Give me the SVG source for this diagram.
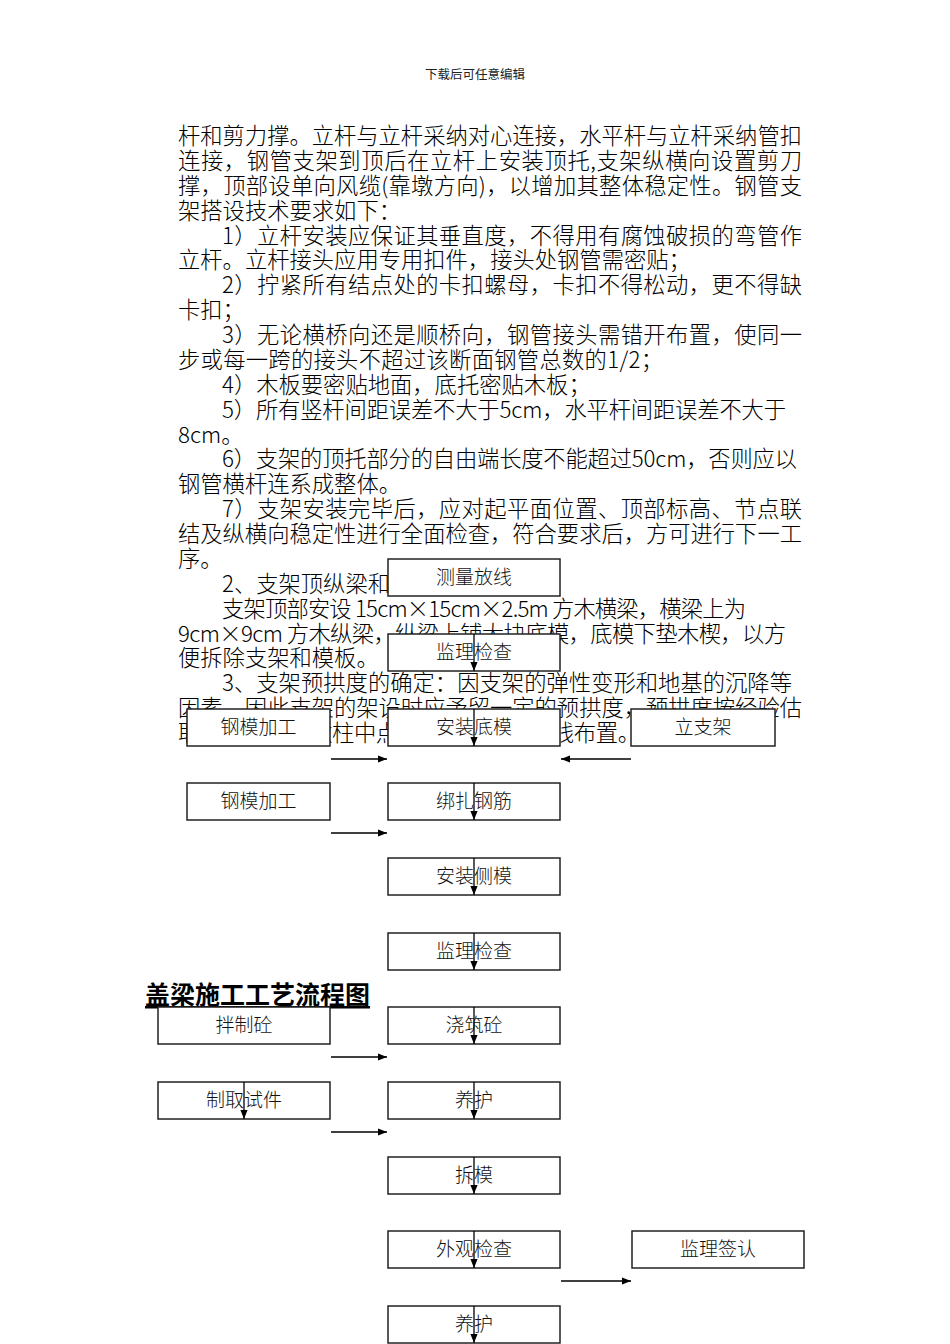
<svg xmlns="http://www.w3.org/2000/svg" width="950" height="1344" viewBox="0 0 950 1344">
<style>
.bg{fill:#fff}
.hdr{font-family:"Noto Sans CJK SC","Noto Sans",sans-serif;font-size:12.5px;fill:#222}
.body{font-family:"Noto Sans CJK SC","Noto Sans",sans-serif;font-size:22.3px;font-weight:300;fill:#000}
.title{font-family:"Noto Sans CJK SC","Noto Sans",sans-serif;font-size:25px;font-weight:700;fill:#000;text-decoration:underline}
.box{fill:#fff;stroke:#222;stroke-width:1.5}
.lbl{font-family:"Noto Sans CJK SC","Noto Sans",sans-serif;font-size:19px;font-weight:300;fill:#111;text-anchor:middle}
.arr{stroke:#000;stroke-width:1.3;fill:none;marker-end:url(#ah)}
</style>
<defs>
<marker id="ah" viewBox="0 0 10 10" refX="10" refY="5" markerWidth="10" markerHeight="9" markerUnits="userSpaceOnUse" orient="auto">
<path d="M0,1 L10,5 L0,9 z" fill="#000"/>
</marker>
</defs>
<rect class="bg" x="0" y="0" width="950" height="1344"/>
<text class="hdr" x="475" y="79" text-anchor="middle">下载后可任意编辑</text>
<g id="bodytext">
<text class="body" x="178" y="144" textLength="624" lengthAdjust="spacing">杆和剪力撑。立杆与立杆采纳对心连接，水平杆与立杆采纳管扣</text>
<text class="body" x="178" y="168.9" textLength="624" lengthAdjust="spacing">连接，钢管支架到顶后在立杆上安装顶托,支架纵横向设置剪刀</text>
<text class="body" x="178" y="193.8" textLength="624" lengthAdjust="spacing">撑，顶部设单向风缆(靠墩方向)，以增加其整体稳定性。钢管支</text>
<text class="body" x="178" y="218.6">架搭设技术要求如下：</text>
<text class="body" x="222" y="243.5" textLength="580" lengthAdjust="spacing">1）立杆安装应保证其垂直度，不得用有腐蚀破损的弯管作</text>
<text class="body" x="178" y="268.4">立杆。立杆接头应用专用扣件，接头处钢管需密贴；</text>
<text class="body" x="222" y="293.3" textLength="580" lengthAdjust="spacing">2）拧紧所有结点处的卡扣螺母，卡扣不得松动，更不得缺</text>
<text class="body" x="178" y="318.1">卡扣；</text>
<text class="body" x="222" y="343" textLength="580" lengthAdjust="spacing">3）无论横桥向还是顺桥向，钢管接头需错开布置，使同一</text>
<text class="body" x="178" y="367.9" textLength="485" lengthAdjust="spacing">步或每一跨的接头不超过该断面钢管总数的1/2；</text>
<text class="body" x="222" y="392.8">4）木板要密贴地面，底托密贴木板；</text>
<text class="body" x="222" y="417.6" textLength="564" lengthAdjust="spacing">5）所有竖杆间距误差不大于5cm，水平杆间距误差不大于</text>
<text class="body" x="178" y="442.5">8cm。</text>
<text class="body" x="222" y="467.4" textLength="575" lengthAdjust="spacing">6）支架的顶托部分的自由端长度不能超过50cm，否则应以</text>
<text class="body" x="178" y="492.3">钢管横杆连系成整体。</text>
<text class="body" x="222" y="517.1" textLength="580" lengthAdjust="spacing">7）支架安装完毕后，应对起平面位置、顶部标高、节点联</text>
<text class="body" x="178" y="542" textLength="624" lengthAdjust="spacing">结及纵横向稳定性进行全面检查，符合要求后，方可进行下一工</text>
<text class="body" x="178" y="566.9">序。</text>
<text class="body" x="222" y="591.8">2、支架顶纵梁和底模</text>
<text class="body" x="222" y="616.6" textLength="524" lengthAdjust="spacing">支架顶部安设 15cm×15cm×2.5m 方木横梁，横梁上为</text>
<text class="body" x="178" y="641.5" textLength="608" lengthAdjust="spacing">9cm×9cm 方木纵梁，纵梁上铺大块底模，底模下垫木楔，以方</text>
<text class="body" x="178" y="666.4">便拆除支架和模板。</text>
<text class="body" x="222" y="691.3" textLength="570" lengthAdjust="spacing">3、支架预拱度的确定：因支架的弹性变形和地基的沉降等</text>
<text class="body" x="178" y="716.1" textLength="624" lengthAdjust="spacing">因素，因此支架的架设时应予留一定的预拱度，预拱度按经验估</text>
<text class="body" x="178" y="741" textLength="462" lengthAdjust="spacing">取值，在盖梁墩柱中点为最大，按抛物线布置。</text>
</g>
<text class="title" x="145" y="1004">盖梁施工工艺流程图</text>
<g id="n1"><rect class="box" x="388" y="559" width="172" height="37"/><text class="lbl" x="474" y="584">测量放线</text></g>
<g id="n2"><rect class="box" x="388" y="634" width="172" height="37"/><text class="lbl" x="474" y="659">监理检查</text></g>
<g id="n3"><rect class="box" x="187" y="709" width="143" height="37"/><text class="lbl" x="258.5" y="734">钢模加工</text></g>
<g id="n4"><rect class="box" x="388" y="709" width="172" height="37"/><text class="lbl" x="474" y="734">安装底模</text></g>
<g id="n5"><rect class="box" x="631" y="709" width="144" height="37"/><text class="lbl" x="703" y="734">立支架</text></g>
<g id="n6"><rect class="box" x="187" y="783" width="143" height="37"/><text class="lbl" x="258.5" y="808">钢模加工</text></g>
<g id="n7"><rect class="box" x="388" y="783" width="172" height="37"/><text class="lbl" x="474" y="808">绑扎钢筋</text></g>
<g id="n8"><rect class="box" x="388" y="858" width="172" height="37"/><text class="lbl" x="474" y="883">安装侧模</text></g>
<g id="n9"><rect class="box" x="388" y="933" width="172" height="37"/><text class="lbl" x="474" y="958">监理检查</text></g>
<g id="n10"><rect class="box" x="158" y="1007" width="172" height="37"/><text class="lbl" x="244" y="1032">拌制砼</text></g>
<g id="n11"><rect class="box" x="388" y="1007" width="172" height="37"/><text class="lbl" x="474" y="1032">浇筑砼</text></g>
<g id="n12"><rect class="box" x="158" y="1082" width="172" height="37"/><text class="lbl" x="244" y="1107">制取试件</text></g>
<g id="n13"><rect class="box" x="388" y="1082" width="172" height="37"/><text class="lbl" x="474" y="1107">养护</text></g>
<g id="n14"><rect class="box" x="388" y="1157" width="172" height="37"/><text class="lbl" x="474" y="1182">拆模</text></g>
<g id="n15"><rect class="box" x="388" y="1231" width="172" height="37"/><text class="lbl" x="474" y="1256">外观检查</text></g>
<g id="n16"><rect class="box" x="632" y="1231" width="172" height="37"/><text class="lbl" x="718" y="1256">监理签认</text></g>
<g id="n17"><rect class="box" x="388" y="1306" width="172" height="37"/><text class="lbl" x="474" y="1331">养护</text></g>
<g id="connectors">
<line class="arr" x1="474" y1="634" x2="474" y2="671"/>
<line class="arr" x1="474" y1="709" x2="474" y2="746"/>
<line class="arr" x1="474" y1="783" x2="474" y2="820"/>
<line class="arr" x1="474" y1="858" x2="474" y2="895"/>
<line class="arr" x1="474" y1="933" x2="474" y2="970"/>
<line class="arr" x1="474" y1="1007" x2="474" y2="1044"/>
<line class="arr" x1="474" y1="1082" x2="474" y2="1119"/>
<line class="arr" x1="474" y1="1157" x2="474" y2="1194"/>
<line class="arr" x1="474" y1="1231" x2="474" y2="1268"/>
<line class="arr" x1="474" y1="1306" x2="474" y2="1343"/>
<line class="arr" x1="244" y1="1082" x2="244" y2="1119"/>
<line class="arr" x1="331" y1="759" x2="387" y2="759"/>
<line class="arr" x1="631" y1="759" x2="561" y2="759"/>
<line class="arr" x1="331" y1="833" x2="387" y2="833"/>
<line class="arr" x1="331" y1="1057" x2="387" y2="1057"/>
<line class="arr" x1="331" y1="1132" x2="387" y2="1132"/>
<line class="arr" x1="561" y1="1281" x2="631" y2="1281"/>
</g>
</svg>
